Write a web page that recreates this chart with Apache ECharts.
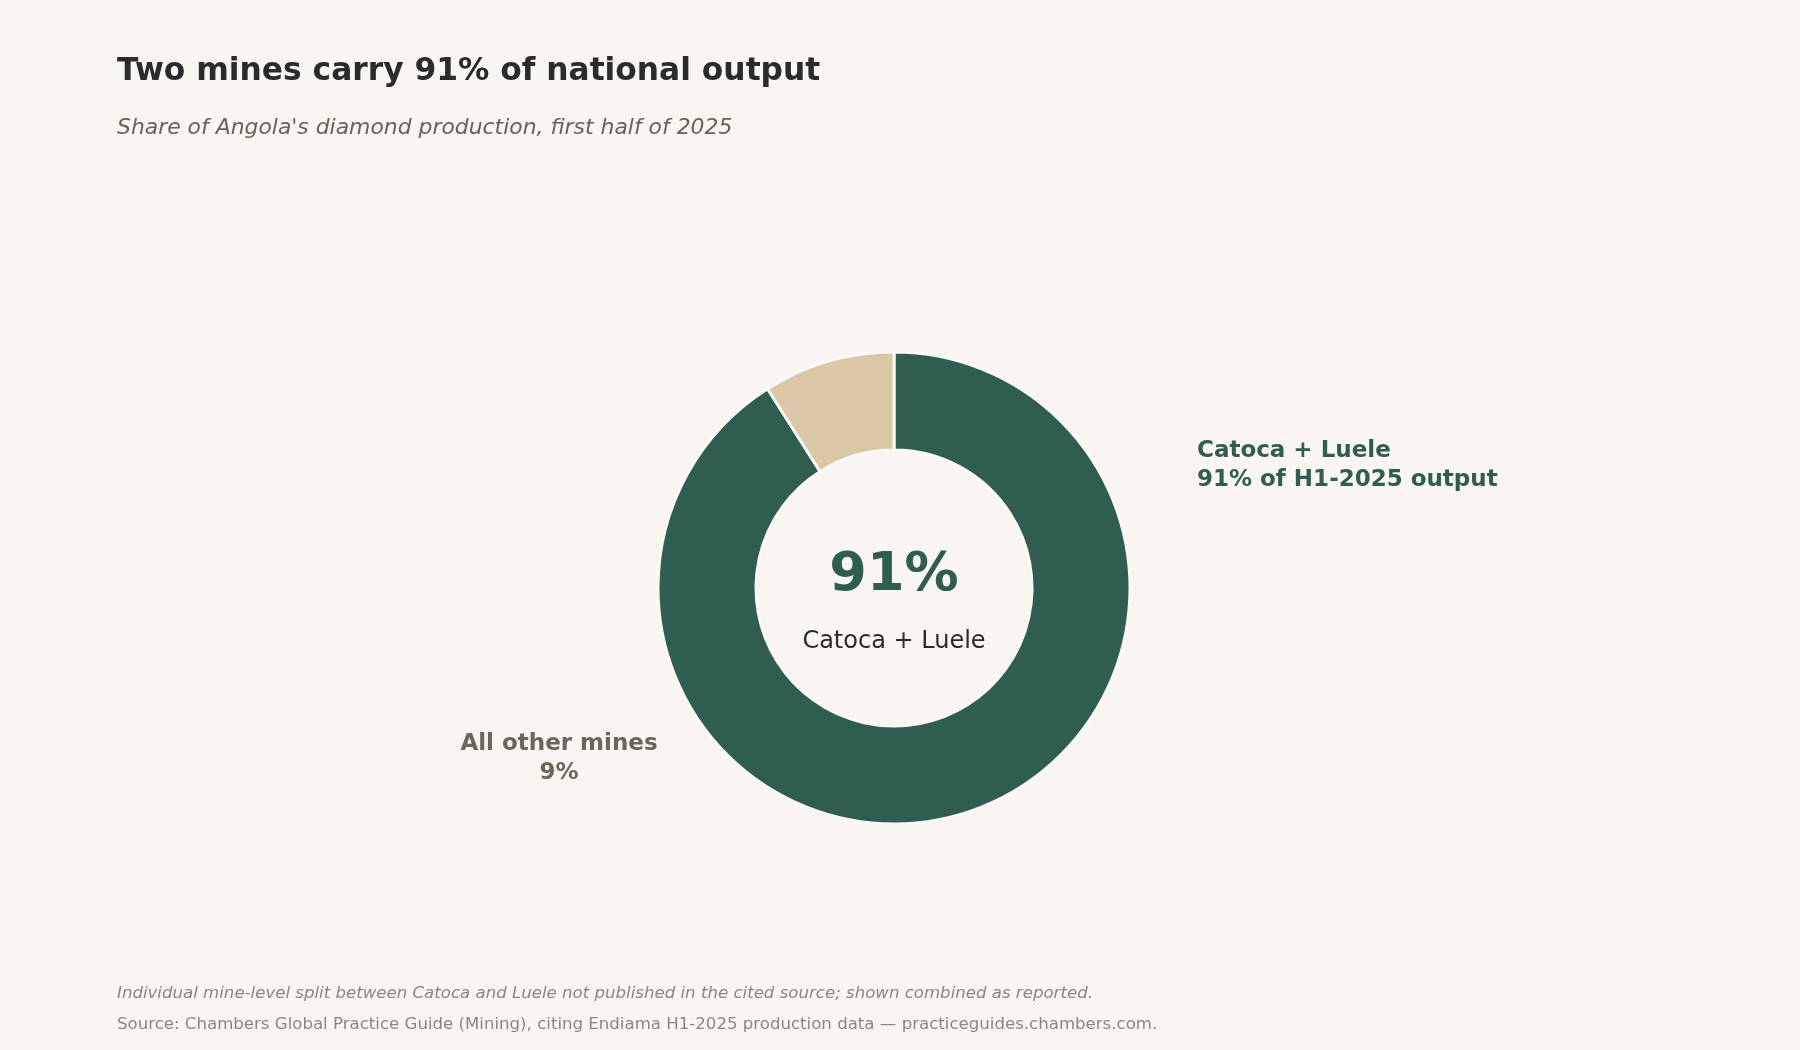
<!DOCTYPE html>
<html>
<head>
<meta charset="utf-8">
<script src="https://cdn.jsdelivr.net/npm/echarts@6/dist/echarts.min.js"></script>
<style>
  html, body { margin: 0; padding: 0; background: #f9f6f2; }
  #container { width: 1800px; height: 1050px; }
</style>
</head>
<body>
<div id="container"></div>
<script>
// chart data
var sliceNames = ['Catoca + Luele', 'All other mines'];
var sliceShares = [91, 9];
var sliceColors = ['#2f5d50', '#dac7a7'];

var titleText = 'Two mines carry 91% of national output';
var subtitleText = "Share of Angola's diamond production, first half of 2025";
var noteText = 'Individual mine-level split between Catoca and Luele not published in the cited source; shown combined as reported.';
var sourceText = 'Source: Chambers Global Practice Guide (Mining), citing Endiama H1-2025 production data \u2014 practiceguides.chambers.com.';

var dom = document.getElementById('container');
var myChart = echarts.init(dom, null, { renderer: 'canvas' });

var pieData = sliceNames.map(function (name, i) {
  return { name: name, value: sliceShares[i], itemStyle: { color: sliceColors[i] } };
});

var option = {
  backgroundColor: '#f9f6f2',
  animation: false,
  graphic: [
    { type: 'text', left: 117, top: 56,
      style: { text: titleText, font: 'bold 31.3px "DejaVu Sans"', fill: '#2b2b2b' } },
    { type: 'text', left: 117, top: 117,
      style: { text: subtitleText, font: 'italic 21.9px "DejaVu Sans"', fill: '#67625a' } },
    // centre text
    { type: 'text', x: 894, y: 576,
      style: { text: sliceShares[0] + '%', font: 'bold 54px "DejaVu Sans"', fill: '#2f5d50',
        align: 'center', verticalAlign: 'middle' } },
    { type: 'text', x: 894, y: 642,
      style: { text: sliceNames[0], font: '24px "DejaVu Sans"', fill: '#2b2b2b',
        align: 'center', verticalAlign: 'middle' } },
    // annotations
    { type: 'text', x: 1197, y: 466,
      style: { text: sliceNames[0] + '\n' + sliceShares[0] + '% of H1-2025 output',
        font: 'bold 23px "DejaVu Sans"', lineHeight: 29, fill: '#2f5d50',
        align: 'left', verticalAlign: 'middle' } },
    { type: 'text', x: 559, y: 759,
      style: { text: sliceNames[1] + '\n' + sliceShares[1] + '%',
        font: 'bold 23px "DejaVu Sans"', lineHeight: 29, fill: '#6b665a',
        align: 'center', verticalAlign: 'middle' } },
    // footer
    { type: 'text', left: 117, top: 985,
      style: { text: noteText, font: 'italic 16.6px "DejaVu Sans"', fill: '#8a8680' } },
    { type: 'text', left: 117, top: 1016,
      style: { text: sourceText, font: '16.6px "DejaVu Sans"', fill: '#8a8680' } }
  ],
  series: [
    {
      type: 'pie',
      center: [894, 588],
      radius: [138, 236],
      startAngle: 90,
      clockwise: true,
      label: { show: false },
      labelLine: { show: false },
      itemStyle: { borderColor: '#fbf9f6', borderWidth: 3 },
      emphasis: { disabled: true },
      data: pieData
    }
  ]
};

myChart.setOption(option);
window.addEventListener('resize', myChart.resize);
</script>
</body>
</html>
